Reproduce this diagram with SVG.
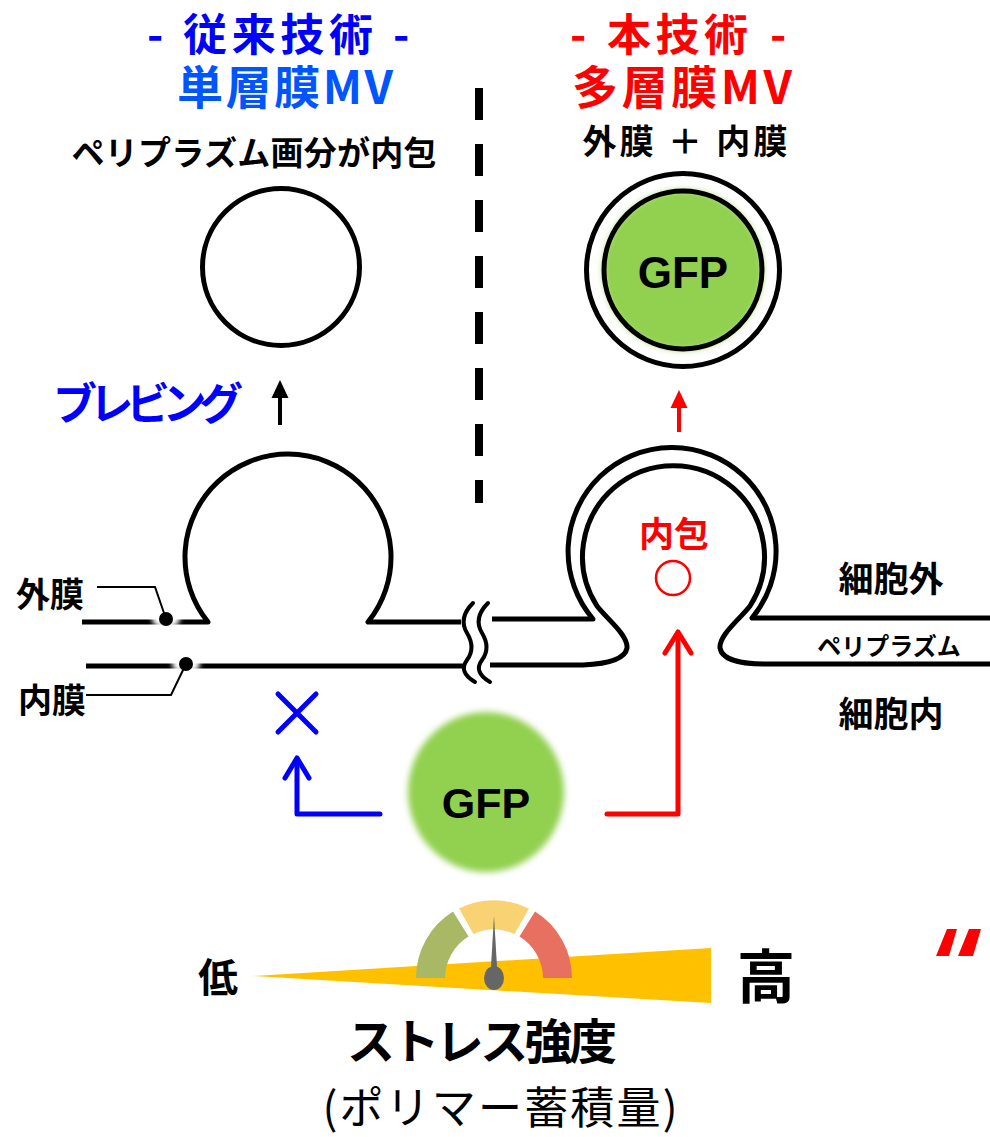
<svg xmlns="http://www.w3.org/2000/svg" width="990" height="1137" viewBox="0 0 990 1137">
  <defs>
    <style>
      .jp { font-family: 'Noto Sans CJK JP', 'Noto Sans', sans-serif; }
      .b { font-weight: bold; }
      .lat { font-family: 'Liberation Sans', Arial, sans-serif; font-weight: bold; }
      .mem { fill: none; stroke: #000; stroke-width: 5; stroke-linejoin: round; }
      .ring { fill: none; stroke: #000; stroke-width: 5; }
      .lead { fill: none; stroke: #000; stroke-width: 2; }
      .brk { fill: none; stroke: #000; stroke-width: 4; stroke-linecap: round; }
      .blue { fill: none; stroke: #0000FF; stroke-width: 5; stroke-linecap: round; stroke-linejoin: round; }
      .red { fill: none; stroke: #FF0000; stroke-width: 5; stroke-linecap: round; stroke-linejoin: round; }
    </style>
    <filter id="soft" x="-20%" y="-20%" width="140%" height="140%">
      <feGaussianBlur stdDeviation="3"/>
    </filter>
    <filter id="halo" x="-50%" y="-50%" width="200%" height="200%">
      <feGaussianBlur stdDeviation="2.5"/>
    </filter>
  </defs>

  <!-- headings -->
  <g id="title-conventional" class="jp b" fill="#0000FF">
    <text x="147" y="51" font-size="44">-</text>
    <text x="183" y="51" font-size="44" textLength="190">従来技術</text>
    <text x="393" y="51" font-size="44">-</text>
    <text x="285" y="104" font-size="46" text-anchor="middle" fill="#0055FF" textLength="216">単層膜MV</text>
  </g>
  <g id="title-new" class="jp b" fill="#FF0000">
    <text x="570" y="51" font-size="44">-</text>
    <text x="607" y="51" font-size="44" textLength="141">本技術</text>
    <text x="770" y="51" font-size="44">-</text>
    <text x="682" y="104" font-size="46" text-anchor="middle" textLength="220">多層膜MV</text>
  </g>
  <text id="label-periplasm-content" class="jp b" x="254" y="165" font-size="33" text-anchor="middle" textLength="365">ペリプラズム画分が内包</text>
  <text id="label-two-membranes" class="jp b" x="685" y="154" font-size="34" text-anchor="middle" textLength="205">外膜 ＋ 内膜</text>

  <!-- divider -->
  <line id="divider" x1="479" y1="88" x2="479" y2="503" stroke="#000" stroke-width="8" stroke-dasharray="32 24"/>

  <!-- single-membrane vesicle -->
  <g id="vesicle-single">
    <circle cx="281" cy="267" r="78.5" class="ring"/>
  </g>

  <!-- multi-membrane vesicle carrying GFP -->
  <g id="vesicle-multi">
    <circle cx="683" cy="270" r="80" fill="#92D050" filter="url(#soft)"/>
    <circle cx="683" cy="270" r="96.5" class="ring"/>
    <circle cx="683" cy="270" r="79" class="ring"/>
    <text x="683" y="288" class="lat" font-size="44" text-anchor="middle">GFP</text>
  </g>

  <text id="label-blebbing" class="jp b" x="148" y="420" font-size="44" fill="#0000FF" text-anchor="middle" textLength="190">ブレビング</text>

  <!-- left membranes (conventional) -->
  <g id="membrane-left">
    <path class="mem" d="M 82 622 H 208 A 103 103 0 1 1 368 622 H 461"/>
    <path class="mem" d="M 86 666 H 465"/>
    <ellipse cx="166" cy="619" rx="14" ry="9" fill="#fff" filter="url(#halo)"/>
    <ellipse cx="186" cy="664" rx="14" ry="9" fill="#fff" filter="url(#halo)"/>
    <circle cx="166" cy="619" r="7" fill="#000"/>
    <circle cx="186" cy="664" r="7" fill="#000"/>
    <path class="lead" d="M 97 587 H 155 L 164 613"/>
    <path class="lead" d="M 86 695 H 171 L 184 668"/>
    <text class="jp b" x="50" y="607" font-size="34" text-anchor="middle">外膜</text>
    <text class="jp b" x="52" y="713" font-size="34" text-anchor="middle">内膜</text>
  </g>

  <!-- break marks -->
  <g id="break">
    <path class="brk" d="M 473 603 Q 458 618 467 633 Q 476 648 467 660 Q 458 672 475 682"/>
    <path class="brk" d="M 488 603 Q 473 618 482 633 Q 491 648 482 660 Q 473 672 490 682"/>
  </g>

  <!-- right membranes (new) -->
  <g id="membrane-right">
    <path class="mem" d="M 492 619 H 593 A 104 104 0 1 1 752 618 H 990"/>
    <path class="mem" d="M 490 665 H 583 C 605 664 625 660 627 648 C 628 635 608 620 597 606 A 91 91 0 1 1 750 606 C 739 620 719 635 720 648 C 722 660 742 664 764 664 H 990"/>
    <text class="jp b" x="674" y="547" font-size="35" fill="#FF0000" text-anchor="middle">内包</text>
    <circle cx="673" cy="578" r="17" fill="none" stroke="#FF0000" stroke-width="2.5"/>
    <text class="jp b" x="891" y="592" font-size="35" text-anchor="middle">細胞外</text>
    <text class="jp b" x="889" y="655" font-size="24" text-anchor="middle">ペリプラズム</text>
    <text class="jp b" x="891" y="727" font-size="35" text-anchor="middle">細胞内</text>
  </g>

  <!-- cytoplasmic GFP -->
  <g id="gfp">
    <ellipse cx="486" cy="792" rx="78" ry="80" fill="#92D050" filter="url(#soft)"/>
    <text x="486" y="818" class="lat" font-size="43" text-anchor="middle">GFP</text>
  </g>

  <!-- connectors -->
  <g id="connectors">
    <path d="M 280 425 V 396" stroke="#000" stroke-width="4"/>
    <polygon points="271.5,398 288.5,398 280,380" fill="#000"/>
    <path d="M 679 432 V 406" stroke="#FF0000" stroke-width="4"/>
    <polygon points="670.5,408 687.5,408 679,390" fill="#FF0000"/>
    <path class="blue" d="M 380 814 H 297 V 759"/>
    <path class="blue" d="M 285 778 L 297 758 L 309 778"/>
    <path class="blue" d="M 278 694 L 316 732 M 316 694 L 278 732"/>
    <path class="red" d="M 607 814 H 678 V 633"/>
    <path class="red" d="M 665 653 L 678 632 L 691 653"/>
  </g>

  <!-- stress gauge -->
  <g id="stress-gauge">
    <polygon points="252,976 711,948 711,1003" fill="#FFC000"/>
    <path d="M 416 978 A 78 78 0 0 1 453 911.6 L 468.5 936.6 A 49 49 0 0 0 445 978 Z" fill="#A9B865"/>
    <path d="M 459 908.6 A 78 78 0 0 1 529 908.6 L 514.5 934 A 49 49 0 0 0 473.5 934 Z" fill="#F8D273"/>
    <path d="M 535 911.6 A 78 78 0 0 1 572 978 L 543 978 A 49 49 0 0 0 519.5 936.6 Z" fill="#E87060"/>
    <polygon points="490.5,975 494,916 497.5,975" fill="#666"/>
    <ellipse cx="494" cy="978" rx="10" ry="12" fill="#666"/>
    <text class="jp b" x="218" y="992" font-size="40" text-anchor="middle">低</text>
    <text class="jp b" x="766" y="998" font-size="58" text-anchor="middle">高</text>
    <text class="jp b" x="482" y="1059" font-size="48" text-anchor="middle" textLength="270">ストレス強度</text>
    <text class="jp" x="500" y="1124" font-size="44" text-anchor="middle" textLength="355">(ポリマー蓄積量)</text>
  </g>

  <!-- red quote mark -->
  <g id="quote-mark" fill="#FF0000">
    <polygon points="936,956 947,929 957,929 949,956"/>
    <polygon points="958,956 969,929 981,929 973,956"/>
  </g>
</svg>
